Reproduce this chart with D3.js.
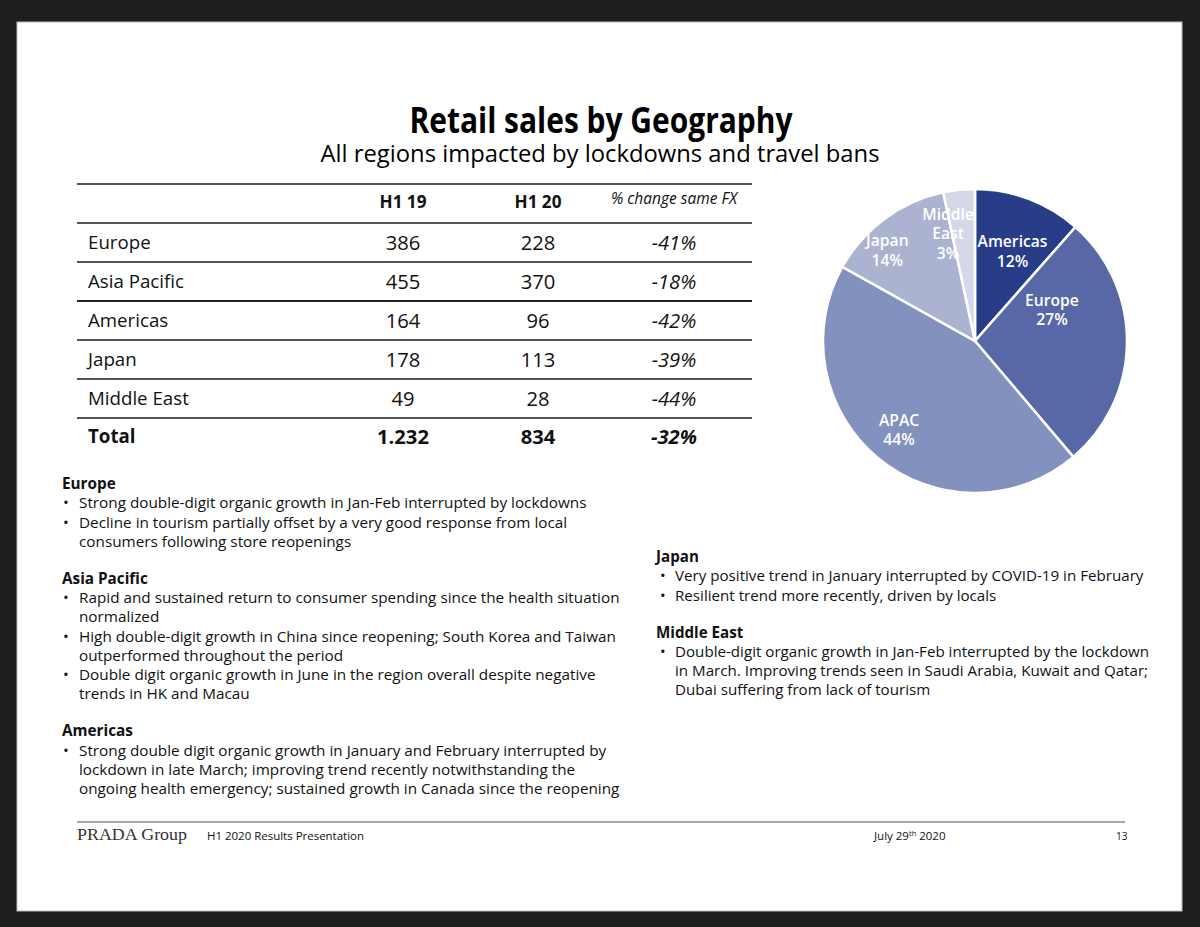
<!DOCTYPE html>
<html><head><meta charset="utf-8">
<script src="https://cdn.jsdelivr.net/npm/d3@7"></script>
<style>html,body{margin:0;padding:0;background:#1e1e20;}svg{display:block;}</style>
</head><body>
<svg id="c" width="1200" height="927"></svg>
<script>
// ---------- data ----------
const regions = ["Europe", "Asia Pacific", "Americas", "Japan", "Middle East"];
const h119 = [386, 455, 164, 178, 49];
const h120 = [228, 370, 96, 113, 28];
const changeFX = ["-41%", "-18%", "-42%", "-39%", "-44%"];
const totalRow = ["Total", "1.232", "834", "-32%"];
const tableHeader = ["", "H1 19", "H1 20", "% change same FX"];

const pieLabels = ["Americas", "Europe", "APAC", "Japan", "Middle East"];
const pieValues = [96, 228, 370, 113, 28];
const piePct = ["12%", "27%", "44%", "14%", "3%"];
const pieColors = ["#283c88", "#5867a5", "#8391bf", "#abb3d1", "#d4d8e8"];

const leftNotes = [
  ["Europe", [["Strong double-digit organic growth in Jan-Feb interrupted by lockdowns"],
              ["Decline in tourism partially offset by a very good response from local", "consumers following store reopenings"]]],
  ["Asia Pacific", [["Rapid and sustained return to consumer spending since the health situation", "normalized"],
                    ["High double-digit growth in China since reopening; South Korea and Taiwan", "outperformed throughout the period"],
                    ["Double digit organic growth in June in the region overall despite negative", "trends in HK and Macau"]]],
  ["Americas", [["Strong double digit organic growth in January and February interrupted by",
                 "lockdown in late March; improving trend recently notwithstanding the",
                 "ongoing health emergency; sustained growth in Canada since the reopening"]]]
];
const rightNotes = [
  ["Japan", [["Very positive trend in January interrupted by COVID-19 in February"],
             ["Resilient trend more recently, driven by locals"]]],
  ["Middle East", [["Double-digit organic growth in Jan-Feb interrupted by the lockdown",
                    "in March. Improving trends seen in Saudi Arabia, Kuwait and Qatar;",
                    "Dubai suffering from lack of tourism"]]]
];

// ---------- helpers ----------
const svg = d3.select("#c");
const FONT = "'Open Sans','Noto Sans',sans-serif";
function fitSize(text, target, weight, style, family) {
  const t = svg.append("text").attr("font-family", family || FONT).attr("font-size", 20)
    .attr("font-weight", weight || 400).attr("font-style", style || "normal").text(text);
  const w = t.node().getComputedTextLength();
  t.remove();
  return 20 * target / w;
}

// ---------- slide ----------
svg.append("rect").attr("x", 17).attr("y", 22).attr("width", 1165).attr("height", 889)
  .attr("fill", "#fff").attr("stroke", "#bbb").attr("stroke-width", 1);

// title
svg.append("text").attr("x", 601).attr("y", 133).attr("text-anchor", "middle")
  .attr("font-family", FONT).attr("font-weight", 700).attr("font-size", 35)
  .attr("textLength", 383).attr("lengthAdjust", "spacingAndGlyphs").attr("fill", "#000")
  .text("Retail sales by Geography");
svg.append("text").attr("x", 600).attr("y", 162).attr("text-anchor", "middle")
  .attr("font-family", FONT).attr("font-size", 24)
  .attr("textLength", 559).attr("lengthAdjust", "spacingAndGlyphs").attr("fill", "#000")
  .text("All regions impacted by lockdowns and travel bans");

// ---------- table ----------
const tx0 = 77, tx1 = 752;
const rowY = d3.scaleLinear().domain([0, 1]).range([184, 223]); // row index -> top y
const colX = [88, 403, 538, 674];
const cellSize = fitSize("Asia Pacific", 96);
const numSize = cellSize * 1.08;
const hdrSize = fitSize("H1 19", 47, 700);
const fxSize = fitSize("% change same FX", 126, 400, "italic");

const tbl = svg.append("g");
d3.range(0, 7).forEach(i => {
  tbl.append("line").attr("x1", tx0).attr("x2", tx1)
    .attr("y1", rowY(i)).attr("y2", rowY(i))
    .attr("stroke", i === 3 ? "#222" : "#555").attr("stroke-width", 2);
});
tableHeader.forEach((h, j) => {
  if (!h) return;
  tbl.append("text").attr("x", colX[j]).attr("y", j === 3 ? 204 : 208)
    .attr("text-anchor", "middle").attr("font-family", FONT)
    .attr("font-weight", j === 3 ? 400 : 700).attr("font-style", j === 3 ? "italic" : "normal")
    .attr("font-size", j === 3 ? fxSize : hdrSize).attr("fill", "#111").text(h);
});
const rows = regions.map((r, i) => [r, String(h119[i]), String(h120[i]), changeFX[i]]);
rows.push(totalRow);
rows.forEach((row, i) => {
  const base = rowY(i + 1) + 26;
  const bold = i === rows.length - 1;
  row.forEach((v, j) => {
    tbl.append("text").attr("x", colX[j]).attr("y", base + (bold ? -1 : 0) + (j > 0 ? 1 : 0))
      .attr("text-anchor", j === 0 ? "start" : "middle")
      .attr("font-family", FONT).attr("font-size", j === 0 ? cellSize : numSize)
      .attr("font-weight", bold ? 700 : 400)
      .attr("font-style", j === 3 ? "italic" : "normal")
      .attr("fill", "#111").text(v);
  });
});

// ---------- pie ----------
const cx = 975, cy = 341, R = 152;
const pie = d3.pie().sort(null).value(d => d).startAngle(0).endAngle(2 * Math.PI);
const arcs = pie(pieValues);
const arc = d3.arc().innerRadius(0).outerRadius(R);
const pg = svg.append("g").attr("transform", `translate(${cx},${cy})`);
pg.selectAll("path").data(arcs).join("path")
  .attr("d", arc).attr("fill", (d, i) => pieColors[i])
  .attr("stroke", "#fff").attr("stroke-width", 2.5);

// label placement (layout): radius fraction and angle shift (deg) from slice mid-angle
const labelLayout = [[0.64, 2], [0.546, -22.5], [0.77, 1], [0.83, -7.6], [0.73, -8]];
const pieFont = fitSize("Americas", 70, 600);
arcs.forEach((d, i) => {
  const mid = (d.startAngle + d.endAngle) / 2 + labelLayout[i][1] * Math.PI / 180;
  const r = labelLayout[i][0] * R;
  const x = r * Math.sin(mid), y = -r * Math.cos(mid);
  const lines = pieLabels[i].split(" ").concat([piePct[i]]);
  const step = 19.5;
  const t = pg.append("text").attr("text-anchor", "middle").attr("font-family", FONT)
    .attr("font-weight", 600).attr("font-size", pieFont).attr("fill", "#fff");
  lines.forEach((ln, k) => {
    t.append("tspan").attr("x", x)
      .attr("y", y + (k - (lines.length - 1) / 2) * step + pieFont * 0.36).text(ln);
  });
});

// ---------- notes ----------
function drawNotes(sections, hx, bx, tx, y0, size) {
  let y = y0;
  const g = svg.append("g").attr("font-family", FONT).attr("font-size", size).attr("fill", "#111");
  sections.forEach((s, si) => {
    if (si > 0) y += 37;
    g.append("text").attr("x", hx).attr("y", y).attr("font-weight", 700).text(s[0]);
    s[1].forEach(bl => {
      bl.forEach((ln, k) => {
        y += 19.25;
        if (k === 0) g.append("text").attr("x", bx).attr("y", y).text("\u2022");
        g.append("text").attr("x", tx).attr("y", y).text(ln);
      });
    });
  });
}
const noteSizeL = fitSize("Strong double-digit organic growth in Jan-Feb interrupted by lockdowns", 508);
const noteSizeR = fitSize("Very positive trend in January interrupted by COVID-19 in February", 469);
drawNotes(leftNotes, 62, 63, 79, 489, noteSizeL);
drawNotes(rightNotes, 656, 660, 675, 562, noteSizeR);

// ---------- footer ----------
svg.append("line").attr("x1", 77).attr("x2", 1125).attr("y1", 822).attr("y2", 822)
  .attr("stroke", "#8a8a8a").attr("stroke-width", 1.5);
svg.append("text").attr("x", 77).attr("y", 840)
  .attr("font-family", "'Liberation Serif','DejaVu Serif',serif").attr("font-size", 17)
  .attr("textLength", 110).attr("lengthAdjust", "spacingAndGlyphs").attr("fill", "#333")
  .text("PRADA Group");
svg.append("text").attr("x", 207).attr("y", 840)
  .attr("font-family", FONT).attr("font-size", 11.5)
  .attr("textLength", 157).attr("lengthAdjust", "spacingAndGlyphs").attr("fill", "#111")
  .text("H1 2020 Results Presentation");
const dt = svg.append("text").attr("x", 874).attr("y", 840)
  .attr("font-family", FONT).attr("font-size", 11.5).attr("fill", "#111");
dt.append("tspan").text("July 29");
dt.append("tspan").attr("font-size", 7.5).attr("dy", -4).text("th");
dt.append("tspan").attr("dy", 4).text(" 2020");
svg.append("text").attr("x", 1116).attr("y", 840)
  .attr("font-family", FONT).attr("font-size", 10).attr("fill", "#111").text("13");
</script>
</body></html>
